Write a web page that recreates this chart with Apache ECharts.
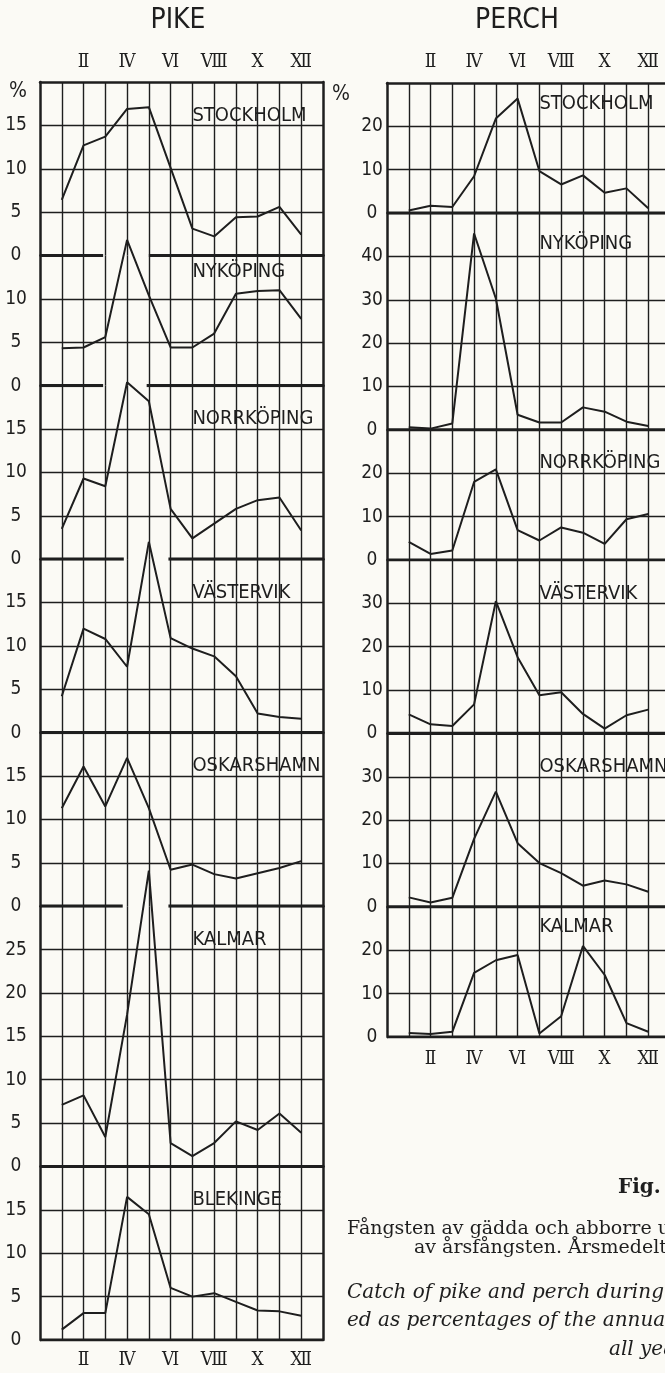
<!DOCTYPE html>
<html><head><meta charset="utf-8">
<script src="https://cdn.jsdelivr.net/npm/echarts@6/dist/echarts.min.js"></script>
<style>html,body{margin:0;padding:0;background:#fbfaf5;}#c{width:665px;height:1373px;}</style>
</head><body><div id="c"></div>
<script>
// ---- data ----
const months = [1,2,3,4,5,6,7,8,9,10,11,12];
const monthLabels = ['Ⅰ','Ⅱ','Ⅲ','Ⅳ','Ⅴ','Ⅵ','Ⅶ','Ⅷ','Ⅸ','Ⅹ','Ⅺ','Ⅻ'];

const pikeStockholm  = [6.4, 12.7, 13.7, 16.9, 17.1, 10.1, 3.1, 2.2, 4.4, 4.5, 5.6, 2.4];
const pikeNykoping   = [4.3, 4.4, 5.6, 16.8, 10.4, 4.4, 4.4, 6.0, 10.6, 10.9, 11.0, 7.7];
const pikeNorrkoping = [3.5, 9.3, 8.4, 20.4, 18.2, 5.8, 2.4, 4.1, 5.8, 6.8, 7.1, 3.3];
const pikeVastervik  = [4.2, 12.0, 10.8, 7.6, 22.0, 10.9, 9.7, 8.8, 6.5, 2.2, 1.8, 1.6];
const pikeOskarshamn = [11.3, 16.1, 11.5, 17.1, 11.3, 4.2, 4.8, 3.7, 3.2, 3.8, 4.4, 5.2];
const pikeKalmar     = [7.1, 8.2, 3.4, 17.5, 34.1, 2.7, 1.2, 2.7, 5.2, 4.2, 6.1, 3.9];
const pikeBlekinge   = [1.2, 3.1, 3.1, 16.5, 14.5, 6.0, 5.0, 5.4, 4.4, 3.4, 3.3, 2.8];

const perchStockholm  = [0.6, 1.7, 1.4, 8.5, 21.8, 26.4, 9.7, 6.6, 8.7, 4.7, 5.7, 1.1];
const perchNykoping   = [0.6, 0.3, 1.5, 45.3, 30.3, 3.5, 1.7, 1.7, 5.2, 4.2, 1.9, 0.9];
const perchNorrkoping = [4.2, 1.4, 2.2, 18.0, 20.9, 6.9, 4.5, 7.5, 6.3, 3.7, 9.4, 10.6];
const perchVastervik  = [4.4, 2.1, 1.7, 6.7, 30.5, 17.6, 8.8, 9.5, 4.5, 1.1, 4.2, 5.5];
const perchOskarshamn = [2.2, 1.0, 2.1, 15.7, 26.6, 14.7, 10.1, 7.8, 4.9, 6.1, 5.2, 3.5];
const perchKalmar     = [0.9, 0.7, 1.2, 14.8, 17.7, 18.9, 0.8, 4.8, 21.0, 14.3, 3.2, 1.2];

// ---- panel layout (axis ranges, label placement, broken baselines) ----
const pikePanels = [
  {name:'STOCKHOLM',  data:pikeStockholm,  max:20, labelY:15, gap:[2.9,5.0]},
  {name:'NYKÖPING',   data:pikeNykoping,   max:15, labelY:12, gap:[2.9,4.9]},
  {name:'NORRKÖPING', data:pikeNorrkoping, max:20, labelY:15, gap:[3.85,5.9]},
  {name:'VÄSTERVIK',  data:pikeVastervik,  max:20, labelY:15, gap:null},
  {name:'OSKARSHAMN', data:pikeOskarshamn, max:20, labelY:15, gap:[3.8,5.9]},
  {name:'KALMAR',     data:pikeKalmar,     max:30, labelY:25, gap:null},
  {name:'BLEKINGE',   data:pikeBlekinge,   max:20, labelY:15, gap:null}
];
const perchPanels = [
  {name:'STOCKHOLM',  data:perchStockholm,  max:30, labelY:22.8, gap:null},
  {name:'NYKÖPING',   data:perchNykoping,   max:50, labelY:40.5, gap:null},
  {name:'NORRKÖPING', data:perchNorrkoping, max:30, labelY:20, gap:null},
  {name:'VÄSTERVIK',  data:perchVastervik,  max:40, labelY:30, gap:null},
  {name:'OSKARSHAMN', data:perchOskarshamn, max:40, labelY:30, gap:null},
  {name:'KALMAR',     data:perchKalmar,     max:30, labelY:23, gap:null}
];

const ink = '#1e1e1e';
const numFont = "'Liberation Sans Narrow','DejaVu Sans Condensed',sans-serif";
const romanFont = "'DejaVu Serif Condensed','DejaVu Serif',serif";

const grids=[], xAxes=[], yAxes=[], series=[], labelRefs=[];

function romanFmt(v){ return (v%2===0 && v>=2 && v<=12) ? monthLabels[v-1] : ''; }

function build(panels, sp){
  const total = panels.reduce((s,p)=>s+p.max,0);
  const ppu = (sp.bottom - sp.top)/total;
  let y = sp.top;
  panels.forEach((p,i)=>{
    const h = p.max*ppu;
    const gi = grids.length;
    grids.push({left:sp.left, top:y, width:sp.width, height:h, containLabel:false, outerBoundsMode:'none'});
    y += h;
    const isTop = i===0, isBottom = i===panels.length-1;
    const xi = xAxes.length;
    xAxes.push({gridIndex:gi, type:'value', min:0, max:13, interval:1, position:'bottom',
      axisLine:{show:false, onZero:false}, axisTick:{show:false},
      axisLabel:{show:isBottom, formatter:romanFmt, margin:sp.botMargin, color:ink, fontFamily:romanFont, fontSize:19},
      splitLine:{show:true, showMinLine:false, showMaxLine:false, lineStyle:{color:ink, width:1.4}}});
    if(isTop){
      xAxes.push({gridIndex:gi, type:'value', min:0, max:13, interval:1, position:'top',
        axisLine:{show:true, onZero:false, lineStyle:{color:ink, width:2.5}}, axisTick:{show:false},
        axisLabel:{show:true, formatter:romanFmt, margin:sp.topMargin, color:ink, fontFamily:romanFont, fontSize:19},
        splitLine:{show:false}});
    }
    const yi = yAxes.length;
    yAxes.push({gridIndex:gi, type:'value', min:0, max:p.max, interval:sp.step, position:'left',
      axisLine:{show:true, onZero:false, lineStyle:{color:ink, width:2.5}}, axisTick:{show:false},
      axisLabel:{formatter:v=> v===p.max ? '' : String(v), align:'center', margin:sp.labelMargin,
        color:ink, fontFamily:numFont, fontSize:19},
      splitLine:{show:true, showMinLine:false, showMaxLine:false, lineStyle:{color:ink, width:1.4}}});
    yAxes.push({gridIndex:gi, type:'value', min:0, max:p.max, position:'right',
      axisLine:{show:true, onZero:false, lineStyle:{color:ink, width:2.5}}, axisTick:{show:false},
      axisLabel:{show:false}, splitLine:{show:false}});
    const segs = p.gap ? [[0,p.gap[0]],[p.gap[1],13]] : [[0,13]];
    segs.forEach(s=>series.push({type:'line', xAxisIndex:xi, yAxisIndex:yi, data:[[s[0],0],[s[1],0]],
      symbol:'none', silent:true, z:3, lineStyle:{color:ink, width:3.2}}));
    const si = series.length;
    series.push({type:'line', name:sp.species+' '+p.name, xAxisIndex:xi, yAxisIndex:yi,
      data:months.map((m,k)=>[m,p.data[k]]), symbol:'none', clip:false, z:4,
      lineStyle:{color:ink, width:2}});
    labelRefs.push({si, x:7, y:p.labelY, text:p.name});
  });
}

build(pikePanels,  {species:'Pike',  left:40,  width:283, top:82, bottom:1340, step:5,  labelMargin:24, topMargin:10, botMargin:11});
build(perchPanels, {species:'Perch', left:387, width:283, top:83, bottom:1037, step:10, labelMargin:15, topMargin:11, botMargin:13});

const chart = echarts.init(document.getElementById('c'));
chart.setOption({
  backgroundColor:'#fbfaf5',
  animation:false,
  grid:grids, xAxis:xAxes, yAxis:yAxes, series:series
});

const titleFont = "normal 28px 'Liberation Sans Narrow','DejaVu Sans Condensed',sans-serif";
const placeFont = "normal 20px 'DejaVu Sans Condensed','Liberation Sans Narrow',sans-serif";
const serif = "'DejaVu Serif','Liberation Serif',serif";
const g = [
  {type:'text', x:178, y:21, style:{text:'PIKE', font:titleFont, fill:ink, textAlign:'center', textVerticalAlign:'middle'}},
  {type:'text', x:517, y:21, style:{text:'PERCH', font:titleFont, fill:ink, textAlign:'center', textVerticalAlign:'middle'}},
  {type:'text', x:18, y:92, style:{text:'%', font:"normal 21px "+numFont, fill:ink, textAlign:'center', textVerticalAlign:'middle'}},
  {type:'text', x:341, y:95, style:{text:'%', font:"normal 21px "+numFont, fill:ink, textAlign:'center', textVerticalAlign:'middle'}},
  {type:'text', x:618, y:1188, style:{text:'Fig.', font:"bold 20px "+serif, fill:ink, textAlign:'left', textVerticalAlign:'middle'}},
  {type:'text', x:347, y:1229, style:{text:'Fångsten av gädda och abborre under olika månader', font:"normal 19px "+serif, fill:ink, textAlign:'left', textVerticalAlign:'middle'}},
  {type:'text', x:414, y:1248, style:{text:'av årsfångsten. Årsmedeltal för alla år.', font:"normal 19px "+serif, fill:ink, textAlign:'left', textVerticalAlign:'middle'}},
  {type:'text', x:347, y:1293, style:{text:'Catch of pike and perch during different months express-', font:"italic 20px "+serif, fill:ink, textAlign:'left', textVerticalAlign:'middle'}},
  {type:'text', x:347, y:1321, style:{text:'ed as percentages of the annual catch. Annual means for', font:"italic 20px "+serif, fill:ink, textAlign:'left', textVerticalAlign:'middle'}},
  {type:'text', x:609, y:1350, style:{text:'all years.', font:"italic 20px "+serif, fill:ink, textAlign:'left', textVerticalAlign:'middle'}}
];
labelRefs.forEach(r=>{
  const pt = chart.convertToPixel({seriesIndex:r.si}, [r.x, r.y]);
  g.push({type:'text', x:pt[0], y:pt[1], z:10, style:{text:r.text, font:placeFont, fill:ink, textAlign:'left', textVerticalAlign:'bottom'}});
});
chart.setOption({graphic:g});
</script>
</body></html>
